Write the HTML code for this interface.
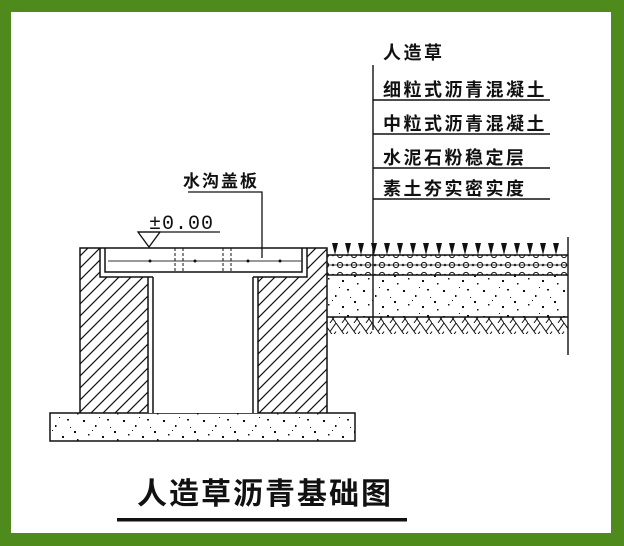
<!DOCTYPE html>
<html><head><meta charset="utf-8"><style>
html,body{margin:0;padding:0;background:#fff}
svg{display:block}
.t{font-family:"Liberation Sans","Noto Sans CJK SC",sans-serif;font-weight:bold;fill:#111}
</style></head><body>
<svg width="624" height="546" viewBox="0 0 624 546" xmlns="http://www.w3.org/2000/svg">
<defs>
<pattern id="hat" width="12" height="12" patternUnits="userSpaceOnUse">
<path d="M-3 15 L15 -3 M-9 9 L9 -9 M3 21 L21 3" stroke="#111" stroke-width="1.2"/>
</pattern>
<pattern id="dots" width="40" height="26" patternUnits="userSpaceOnUse">
<g fill="#111"><rect x="3" y="4" width="2" height="2"/><rect x="15" y="9" width="1.5" height="2"/><rect x="27" y="3" width="2" height="1.5"/><rect x="34" y="15" width="2" height="2"/><rect x="8" y="18" width="1.5" height="1.5"/><rect x="22" y="20" width="2" height="2"/><rect x="30" y="11" width="1" height="1"/><rect x="12" y="14" width="1" height="1"/><rect x="37" y="23" width="1.5" height="1.5"/><rect x="19" y="1" width="1" height="1"/></g>
</pattern>
<pattern id="grav" width="14" height="10" patternUnits="userSpaceOnUse">
<circle cx="4" cy="5" r="2.6" fill="none" stroke="#111" stroke-width="1"/>
<circle cx="11" cy="5" r="1.3" fill="#333"/>
</pattern>
<pattern id="soil" width="24" height="17" patternUnits="userSpaceOnUse">
<path d="M0 0 L12 17 M12 0 L24 17 M6 8.5 L12 0 M18 8.5 L24 0 M0 8.5 L-6 17 M12 8.5 L6 17 M24 8.5 L18 17" stroke="#111" stroke-width="1" fill="none"/>
</pattern>
</defs>
<rect width="624" height="546" fill="#4e8a1c"/>
<rect x="11" y="12" width="600" height="521" fill="#fff"/>

<rect x="50" y="413" width="305" height="28" fill="url(#dots)" stroke="#111" stroke-width="1.5"/>
<rect x="80" y="248" width="68" height="165" fill="url(#hat)"/>
<rect x="258" y="248" width="69" height="165" fill="url(#hat)"/>
<rect x="100" y="248" width="207" height="29" fill="#fff"/>
<rect x="148" y="277" width="110" height="136" fill="#fff"/>
<g stroke="#111" stroke-width="1.5" fill="none">
<path d="M80 413 V248 H327 V413"/>
<path d="M100 248 V277 H148 V413 M153 277 V413 M153 277 H100"/>
<path d="M307 248 V277 H258 V413 M253 277 V413 M253 277 H307"/>
<path d="M105 248 V272 H302 V248"/>
</g>
<line x1="108" y1="261" x2="302" y2="261" stroke="#333" stroke-width="1"/>
<g fill="#111"><circle cx="150" cy="261" r="1.5"/><circle cx="195" cy="261" r="1.5"/><circle cx="248" cy="261" r="1.5"/><circle cx="280" cy="261" r="1.5"/></g>
<g stroke="#111" stroke-width="1" stroke-dasharray="3,2"><line x1="175" y1="248" x2="175" y2="272"/><line x1="183" y1="248" x2="183" y2="272"/><line x1="223" y1="248" x2="223" y2="272"/><line x1="231" y1="248" x2="231" y2="272"/></g>

<path d="M138 232 L160 232 L149 247 Z" fill="#fff" stroke="#111" stroke-width="1.3"/>
<line x1="138" y1="232" x2="220" y2="232" stroke="#111" stroke-width="1.3"/>
<text x="149" y="229" font-family="Liberation Mono,monospace" font-size="20" letter-spacing="1" fill="#111">±0.00</text>

<text class="t" x="183" y="187" font-size="17" letter-spacing="2">水沟盖板</text>
<path d="M188 192 H262 V258" stroke="#111" stroke-width="1.3" fill="none"/>

<rect x="327" y="255" width="241" height="20" fill="url(#grav)"/>
<rect x="327" y="275" width="241" height="42" fill="url(#dots)"/>
<rect x="327" y="317" width="241" height="17" fill="url(#soil)"/>
<g stroke="#111" stroke-width="1.4" fill="none">
<line x1="327" y1="255" x2="568" y2="255"/>
<line x1="327" y1="265" x2="568" y2="265" stroke-width="0.8"/>
<line x1="327" y1="275" x2="568" y2="275"/>
<line x1="327" y1="317" x2="568" y2="317"/>
<line x1="568" y1="237" x2="568" y2="355"/>
<line x1="373" y1="65" x2="373" y2="330"/>
<line x1="373" y1="100" x2="550" y2="100"/>
<line x1="373" y1="134" x2="550" y2="134"/>
<line x1="373" y1="168" x2="550" y2="168"/>
<line x1="373" y1="199" x2="550" y2="199"/>
</g>
<g fill="#111">
<path d="M332 243 L338 243 L335 255 Z"/><path d="M345 243 L351 243 L348 255 Z"/><path d="M358 243 L364 243 L361 255 Z"/><path d="M371 243 L377 243 L374 255 Z"/><path d="M384 243 L390 243 L387 255 Z"/><path d="M397 243 L403 243 L400 255 Z"/><path d="M410 243 L416 243 L413 255 Z"/><path d="M423 243 L429 243 L426 255 Z"/><path d="M436 243 L442 243 L439 255 Z"/><path d="M449 243 L455 243 L452 255 Z"/><path d="M462 243 L468 243 L465 255 Z"/><path d="M475 243 L481 243 L478 255 Z"/><path d="M488 243 L494 243 L491 255 Z"/><path d="M501 243 L507 243 L504 255 Z"/><path d="M514 243 L520 243 L517 255 Z"/><path d="M527 243 L533 243 L530 255 Z"/><path d="M540 243 L546 243 L543 255 Z"/><path d="M553 243 L559 243 L556 255 Z"/>
</g>

<g class="t" font-size="18" letter-spacing="2.5">
<text x="383" y="59">人造草</text>
<text x="383" y="96">细粒式沥青混凝土</text>
<text x="383" y="130">中粒式沥青混凝土</text>
<text x="383" y="164">水泥石粉稳定层</text>
<text x="383" y="195">素土夯实密实度</text>
</g>

<text class="t" x="137" y="504" font-size="30" letter-spacing="2">人造草沥青基础图</text>
<rect x="117" y="518" width="290" height="3.5" fill="#111"/>
</svg>
</body></html>
